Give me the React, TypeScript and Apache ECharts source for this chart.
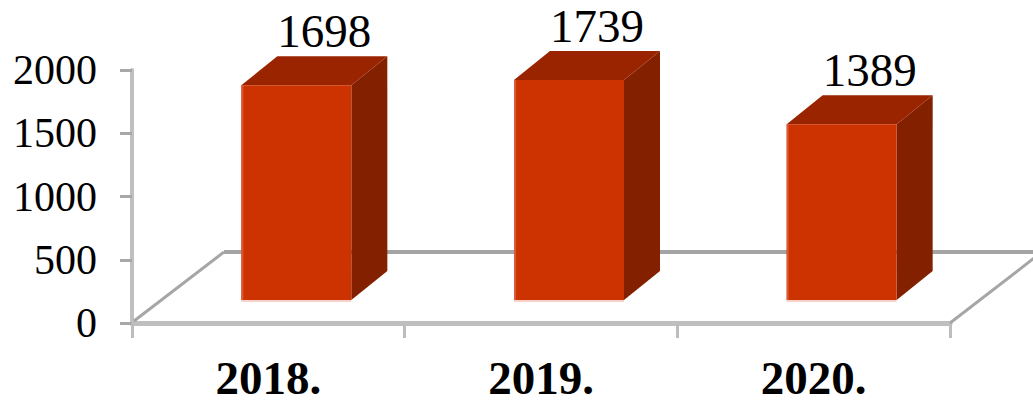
import React, { useEffect, useRef } from "react";
import * as echarts from "echarts";

const categories = ["2018.", "2019.", "2020."];
const values = [1698, 1739, 1389];
const yTicks = { min: 0, max: 2000, interval: 500 };

const FRONT = "#CC3300";
const TOP = "#9A2400";
const SIDE = "#822000";
const DX = 36;
const DY = 29;

export default function App() {
  const ref = useRef<HTMLDivElement>(null);
  useEffect(() => {
    if (!ref.current) return;
    const chart = echarts.init(ref.current, undefined, { renderer: "svg" });
    const serif = "'Liberation Serif', 'Times New Roman', serif";
    chart.setOption({
      animation: false,
      backgroundColor: "#ffffff",
      grid: { left: 132, right: 83, top: 70, bottom: 80, containLabel: false },
      xAxis: {
        type: "category",
        data: categories,
        boundaryGap: true,
        axisLine: { show: true, lineStyle: { color: "#BFBFBF", width: 5 } },
        axisTick: { show: true, length: 15, lineStyle: { color: "#BDBDBD", width: 3 } },
        axisLabel: {
          fontFamily: serif,
          fontWeight: "bold",
          fontSize: 47,
          lineHeight: 40,
          color: "#000",
          margin: 35,
        },
        splitLine: { show: false },
      },
      yAxis: {
        type: "value",
        min: yTicks.min,
        max: yTicks.max,
        interval: yTicks.interval,
        axisLine: { show: true, lineStyle: { color: "#C0C0C0", width: 4 } },
        axisTick: { show: true, length: 12, lineStyle: { color: "#A8A8A8", width: 3 } },
        axisLabel: {
          fontFamily: serif,
          fontSize: 42,
          color: "#000",
          margin: 35,
          formatter: (v: number) => String(v),
        },
        splitLine: { show: false },
      },
      series: [
        {
          type: "custom",
          z: 1,
          clip: false,
          silent: true,
          data: [[0]],
          renderItem: (params: any, api: any) => {
            const cs = params.coordSys;
            const L = cs.x;
            const R = cs.x + cs.width;
            const B = cs.y + cs.height;
            const fx = 92;
            const fy = 71;
            const st = { stroke: "#A6A6A6", lineWidth: 3, fill: null };
            return {
              type: "group",
              children: [
                { type: "line", shape: { x1: L + fx, y1: B - fy, x2: R + fx + 20, y2: B - fy }, style: { stroke: "#A4A4A4", lineWidth: 4 } },
                { type: "line", shape: { x1: L + 2, y1: B - 2, x2: L + fx, y2: B - fy }, style: st },
                { type: "line", shape: { x1: R, y1: B, x2: R + fx, y2: B - fy }, style: st },
              ],
            };
          },
        },
        {
          type: "custom",
          z: 3,
          clip: false,
          data: values.map((v, i) => [i, v]),
          renderItem: (params: any, api: any) => {
            const i = api.value(0);
            const v = api.value(1);
            const c = api.coord([i, v]);
            const b = api.coord([i, 0]);
            const base = b[1] - 23;
            const top = base - (b[1] - c[1]);
            const x0 = c[0] - 27;
            const x1 = x0 + 110;
            return {
              type: "group",
              children: [
                {
                  type: "polygon",
                  shape: { points: [[x1, top], [x1 + DX, top - DY], [x1 + DX, base - DY], [x1, base]] },
                  style: { fill: SIDE },
                },
                {
                  type: "polygon",
                  shape: { points: [[x0, top], [x0 + DX, top - DY], [x1 + DX, top - DY], [x1, top]] },
                  style: { fill: TOP },
                },
                { type: "rect", shape: { x: x0, y: top, width: x1 - x0, height: base - top }, style: { fill: FRONT } },
                { type: "line", shape: { x1: x0 + 1, y1: top, x2: x0 + 1, y2: base }, style: { stroke: "#DA5A38", lineWidth: 2 } },
                { type: "line", shape: { x1: x0, y1: base + 1, x2: x1, y2: base + 1 }, style: { stroke: "#F6D2C8", lineWidth: 2 } },
                {
                  type: "text",
                  x: c[0] + 56,
                  y: top - DY - 25,
                  style: {
                    text: String(v),
                    fontFamily: serif,
                    fontSize: 47,
                    lineHeight: 40,
                    fill: "#000",
                    align: "center",
                    verticalAlign: "middle",
                  },
                },
              ],
            };
          },
        },
      ],
    });
    return () => chart.dispose();
  }, []);
  return (
    <div
      ref={ref}
      style={{ position: "absolute", left: 0, top: 0, width: 1033, height: 403, background: "#fff" }}
    />
  );
}
